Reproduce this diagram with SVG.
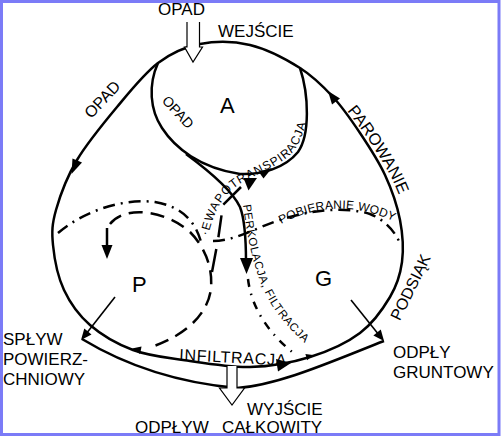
<svg xmlns="http://www.w3.org/2000/svg" width="501" height="436" viewBox="0 0 501 436">
<style>
.ln{fill:none;stroke:#000;stroke-width:2.5}
.thin{fill:none;stroke:#000;stroke-width:1.6}
.ds{fill:none;stroke:#000;stroke-width:2.5;stroke-dasharray:14 8}
.dd{fill:none;stroke:#000;stroke-width:2.5;stroke-dasharray:12 6 2 6}
.dp{fill:none;stroke:#000;stroke-width:2.5;stroke-dasharray:8 7 1.5 7}
.ah{fill:#000;stroke:none}
.hollow{fill:#fff;stroke:#000;stroke-width:1.2}
text{font-family:"Liberation Sans",Arial,sans-serif;fill:#000}
.lb{font-size:17px}
.big{font-size:22px}
.sm{font-size:12px}
</style>
<defs>
<path id="pE" d="M208,236 C213,214 222,196 238,185 C252,176 275,168 290,155 C298,147 304,134 307,118"/>
<path id="pP" d="M243,205 C247,235 253,268 265,293 C275,313 290,330 306,344"/>
<path id="pW" d="M281,224 Q338,194 397,223"/>
<path id="pR" d="M347,111 C362,129 381,157 393,181 C399,194 404,207 407,222"/>
</defs>
<rect width="501" height="436" fill="#fff"/>
<rect x="1.5" y="1.5" width="497.5" height="433" fill="none" stroke="#7b7bf7" stroke-width="3"/>

<g id="node-A">
<path class="ln" d="M158,63 C148,85 150,110 162,128 C175,148 200,168 240,174 C262,175 285,168 298,152 C310,135 309,95 300,68"/>
<text class="big" x="220" y="113">A</text>
</g>
<g id="node-P">
<path class="ds" d="M110,224 C125,205 165,210 190,232 C203,245 213,265 211,288 C209,310 190,335 148,348"/>
<text class="big" x="132" y="292">P</text>
</g>
<g id="node-G">
<path class="dd" d="M213,241 C235,241 255,228 280,220 C310,210 345,206 370,214 C385,220 396,232 401,246"/>
<text class="big" x="315" y="286">G</text>
</g>

<g id="connectors">
<path class="ln" d="M117,107 C130.5,90.8 144.2,73.5 158,63 C171.8,52.5 184.7,47 200,44 C215.3,41 233.3,41 250,45 C266.7,49 286.2,59.3 300,68 C313.8,76.7 323,86.2 333,97 C343,107.8 351.3,120 360,133 C368.7,146 378.3,160.5 385,175 C391.7,189.5 397.2,205.5 400,220 C402.8,234.5 403.7,249.2 402,262 C400.3,274.8 397,285.2 390,297 C383,308.8 373.3,323 360,333 C346.7,343 328.3,351.3 310,357 C291.7,362.7 271.2,366.5 250,367 C228.8,367.5 202.5,362.8 183,360 C163.5,357.2 148.5,355.8 133,350 C117.5,344.2 101.5,335 90,325 C78.5,315 70.2,303.3 64,290 C57.8,276.7 54.3,258.3 53,245 C51.7,231.7 52,224.2 56,210 C60,195.8 66.8,177.2 77,160 C87.2,142.8 103.5,123.2 117,107 Z"/>
<polygon class="ah" points="71.5,174 82,162.5 72.5,158.5"/>
<polygon class="ah" points="328,91 340,98.5 332,104.5"/>
<polygon class="ah" points="291,363 276,359 278,371.5"/>
<polygon class="ah" points="313,355 305.4,354 307.2,360.2"/>
<polygon class="ah" points="132,348.5 141.5,346.5 140.1,354"/>
<path class="ln" d="M82,339 C120,362 170,382 237,388 C280,385 335,360 384,341"/>
<path class="thin" d="M115,297 L86,334"/>
<polygon class="ah" points="81,340 91.5,334.5 84.3,328.6"/>
<path class="thin" d="M351,300 L379,335"/>
<polygon class="ah" points="384,341 380.8,329.4 373.4,335.4"/>
<path class="dd" d="M58,233 C85,210 125,198 155,202 C180,206 195,220 201,242"/>
<path class="ln" style="stroke-dasharray:25 11 22 12 24" d="M241,187 L223,205 L218,240 L212,272"/>
<path class="ln" d="M186,154 C205,168 232,190 240,207 C245,220 246,240 246,262"/>
<polygon class="ah" points="240,258 253,258 246.5,274"/>
<path class="dp" d="M248,279 C251,305 266,332 296,355"/>
<path class="ln" d="M107,228 L107,247"/>
<polygon class="ah" points="101.5,245 112.5,245 107,259"/>
<polygon class="ah" points="243.5,178 257,178 248.5,190.5"/>
<polygon class="ah" points="258.5,171.5 272,168 263.5,178.5"/>
<path class="hollow" d="M187,22 L187,47 L184.5,47 L193,62 L202.5,47 L199.5,47 L199.5,22"/>
<path class="hollow" d="M227,366 L227,388 L219.5,388 L232,405 L244.5,388 L237,388 L237,366"/>
</g>

<g id="labels">
<text class="lb" x="158" y="15">OPAD</text>
<text class="lb" x="218" y="37">WEJŚCIE</text>
<text style="font-size:16px" text-anchor="middle" transform="translate(102,99) rotate(-47)" y="6">OPAD</text>
<text style="font-size:14px" text-anchor="middle" transform="translate(178,112) rotate(47)" y="5">OPAD</text>
<text style="font-size:16.5px"><textPath href="#pR">PAROWANIE</textPath></text>
<text style="font-size:16px" text-anchor="middle" transform="translate(410,287) rotate(-64)" y="6">PODSIĄK</text>
<text class="sm" style="letter-spacing:1px"><textPath href="#pE">·EWAPOTRANSPIRACJA</textPath></text>
<text style="font-size:11.5px;letter-spacing:0.6px"><textPath href="#pP">PERKOLACJA, FILTRACJA</textPath></text>
<text class="sm" style="letter-spacing:0.2px"><textPath href="#pW">POBIERANIE WODY</textPath></text>
<text style="font-size:16px;letter-spacing:0.7px" x="179" y="360" transform="rotate(3 179 360)">INFILTRACJA</text>
<text class="lb" x="3" y="345">SPŁYW</text>
<text class="lb" x="3" y="365">POWIERZ-</text>
<text class="lb" x="3" y="385">CHNIOWY</text>
<text class="lb" x="393" y="358">ODPŁY</text>
<text class="lb" x="393" y="378">GRUNTOWY</text>
<text class="lb" x="247" y="415">WYJŚCIE</text>
<text class="lb" x="135" y="433">ODPŁYW</text>
<text class="lb" x="222" y="433">CAŁKOWITY</text>
</g>
</svg>
